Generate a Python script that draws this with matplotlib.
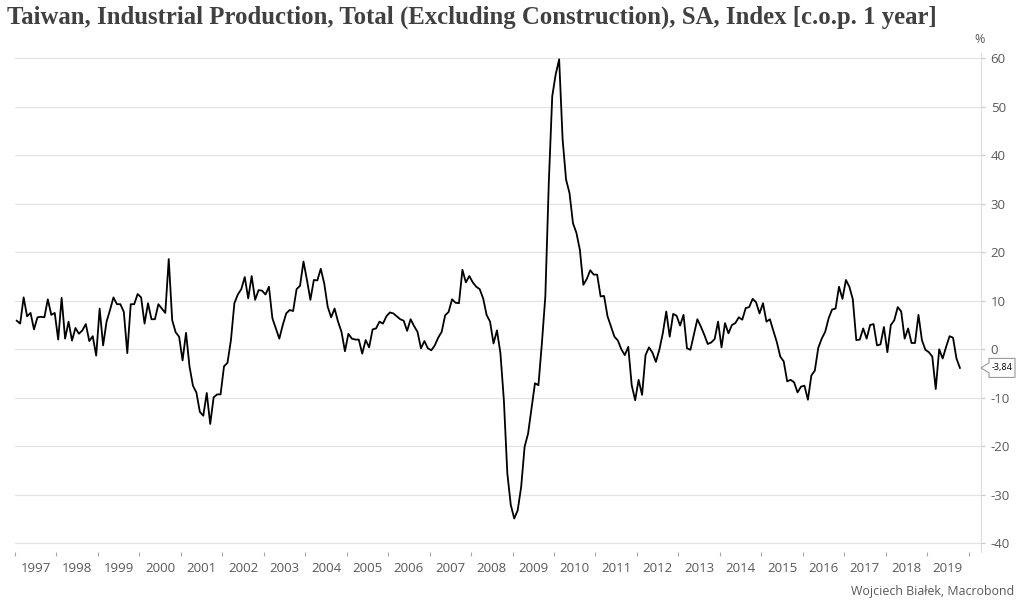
import matplotlib
matplotlib.use("Agg")
import matplotlib.pyplot as plt
import matplotlib.transforms as mtransforms
from matplotlib.patches import Polygon
import numpy as np

title = "Taiwan, Industrial Production, Total (Excluding Construction), SA, Index [c.o.p. 1 year]"
credit = "Wojciech Białek, Macrobond"
unit_label = "%"
start_year = 1997
year_labels = list(range(1997, 2020))
y_ticks = [-40, -30, -20, -10, 0, 10, 20, 30, 40, 50, 60]
last_label = "-3,84"

# monthly y/y change, Jan 1997 .. Oct 2019
ip_yoy = [
    5.9, 5.3, 10.7, 6.8, 7.5, 4.1, 6.6, 6.7, 6.6, 10.3, 7.1, 7.5,        # 1997
    2.0, 10.6, 2.2, 5.7, 1.8, 4.4, 3.2, 3.9, 5.2, 1.7, 2.7, -1.3,       # 1998
    8.4, 0.8, 5.7, 8.1, 10.7, 9.3, 9.3, 7.7, -0.8, 9.3, 9.3, 11.4,      # 1999
    10.7, 5.3, 9.5, 6.2, 6.2, 9.3, 8.4, 7.5, 18.6, 6.0, 3.5, 2.6,       # 2000
    -2.3, 3.4, -3.5, -7.5, -8.9, -12.9, -13.7, -9.0, -15.4, -9.9, -9.3, -9.3,  # 2001
    -3.5, -2.8, 1.9, 9.5, 11.3, 12.4, 14.9, 10.5, 15.1, 10.2, 12.2, 12.1,      # 2002
    11.3, 12.9, 6.4, 4.3, 2.2, 5.0, 7.4, 8.1, 7.9, 12.4, 13.1, 18.1,    # 2003
    14.3, 10.2, 14.3, 14.2, 16.6, 13.6, 8.8, 6.6, 8.4, 5.7, 3.6, -0.4,  # 2004
    3.2, 2.2, 2.0, 2.0, -0.9, 1.9, 0.4, 4.1, 4.3, 5.7, 5.3, 6.8,        # 2005
    7.6, 7.4, 6.8, 6.2, 5.9, 3.8, 6.2, 4.8, 3.6, 0.2, 1.7, 0.2,         # 2006
    -0.2, 0.8, 2.4, 3.6, 7.0, 7.7, 10.3, 9.6, 9.5, 16.4, 13.8, 15.1,    # 2007
    13.8, 12.9, 12.4, 10.5, 7.1, 5.7, 1.2, 3.9, -0.8, -10.5, -25.6, -32.1,     # 2008
    -34.9, -33.2, -28.4, -20.1, -17.4, -12.2, -7.0, -7.4, 1.2, 10.9, 34.3, 52.2,  # 2009
    56.7, 59.8, 43.3, 35.0, 32.2, 26.0, 24.0, 20.5, 13.3, 14.5, 16.3, 15.4,   # 2010
    15.4, 10.9, 11.0, 6.8, 4.7, 2.6, 1.8, 0.0, -1.2, 0.5, -7.4, -10.5,  # 2011
    -6.3, -9.4, -1.2, 0.4, -0.7, -2.6, -0.1, 3.3, 7.8, 2.6, 7.3, 6.9,   # 2012
    4.9, 7.1, 0.2, -0.1, 3.0, 6.2, 4.7, 3.0, 1.1, 1.4, 2.1, 5.7,        # 2013
    0.4, 5.4, 3.3, 5.0, 5.4, 6.6, 6.1, 8.5, 8.7, 10.4, 9.7, 7.4,        # 2014
    9.5, 5.7, 6.2, 3.8, 1.5, -1.5, -2.5, -6.6, -6.3, -6.8, -8.9, -7.7,  # 2015
    -7.5, -10.4, -5.4, -4.4, 0.3, 2.2, 3.6, 6.4, 8.2, 8.4, 12.9, 10.4,  # 2016
    14.3, 12.9, 10.3, 1.9, 2.0, 4.3, 2.2, 5.0, 5.2, 0.8, 1.0, 4.6,      # 2017
    -0.6, 5.0, 6.0, 8.7, 7.8, 2.2, 4.3, 1.3, 1.3, 7.1, 1.9, -0.1,       # 2018
    -0.6, -1.5, -8.2, 0.0, -1.9, 0.5, 2.7, 2.4, -1.9, -3.84,            # 2019
]

months = np.arange(len(ip_yoy))
x = start_year + (months + 0.5) / 12.0
last_value = ip_yoy[-1]

text_gray = "#595959"
grid_gray = "#e3e3e3"
axis_gray = "#c8c8c8"

fig = plt.figure(figsize=(10.24, 6.08), dpi=100)
W, H = 1024, 608
ax = fig.add_axes([15 / W, (H - 552) / H, (981 - 15) / W, (552 - 53) / H])

ax.plot(x, ip_yoy, color="black", lw=1.3, solid_joinstyle="round", zorder=3)

ax.set_xlim(start_year, start_year + 23.3)
ax.set_ylim(-41.8, 61.1)
ax.set_autoscale_on(False)

# y axis on the right
ax.yaxis.tick_right()
ax.set_yticks(y_ticks)
ax.set_yticklabels([str(v) for v in y_ticks])
ax.tick_params(axis="y", which="major", length=3, width=0.8, color=axis_gray,
               labelcolor=text_gray, labelsize=9.5, pad=4)
ax.yaxis.grid(True, color=grid_gray, lw=0.9)
ax.set_axisbelow(True)

# x axis: ticks at year boundaries, labels centred in the year
ax.set_xticks(list(range(start_year, start_year + len(year_labels) + 1)))
ax.set_xticklabels([])
ax.set_xticks([y + 0.5 for y in year_labels], minor=True)
ax.set_xticklabels([str(y) for y in year_labels], minor=True)
ax.tick_params(axis="x", which="major", length=3, width=0.8, color="#a6a6a6", direction="out")
ax.tick_params(axis="x", which="minor", length=0, labelcolor=text_gray, labelsize=9.5, pad=7)

for s in ["left", "top", "bottom"]:
    ax.spines[s].set_visible(False)
ax.spines["right"].set_color("#dcdcdc")
ax.spines["right"].set_linewidth(0.8)

for lab in ax.get_xticklabels(minor=True) + ax.get_yticklabels():
    lab.set_fontfamily("Open Sans")

# unit label above the axis
ax.annotate(unit_label, xy=(1, 1), xycoords="axes fraction", xytext=(-1, 9.5),
            textcoords="offset points", ha="center", va="center",
            fontsize=9, color=text_gray, family="Open Sans")

# last value callout
anchor = mtransforms.ScaledTranslation(1, last_value, ax.get_yaxis_transform())
pt_trans = mtransforms.Affine2D().scale(1 / 72.0) + fig.dpi_scale_trans + anchor
s = 0.72
verts = [(0, 0), (8 * s, 5 * s), (8 * s, 9.5 * s), (34 * s, 9.5 * s),
         (34 * s, -9.5 * s), (8 * s, -9.5 * s), (8 * s, -5 * s)]
callout = Polygon(verts, closed=True, facecolor="white", edgecolor="#9a9a9a",
                  lw=0.8, transform=pt_trans, clip_on=False, zorder=6)
ax.add_artist(callout)
ax.annotate(last_label, xy=(1, last_value), xycoords=ax.get_yaxis_transform(),
            xytext=(21.5 * s, 0), textcoords="offset points", ha="center", va="center",
            fontsize=6.5, color="black", family="Open Sans", annotation_clip=False,
            zorder=7)

# title and credit
fig.text(7 / W, 1 - 17 / H, title, ha="left", va="center", fontsize=17.8,
         fontweight="bold", family="Liberation Serif", color="#404040")
fig.text(1014 / W, 1 - 591 / H, credit, ha="right", va="center", fontsize=8.9,
         color=text_gray, family="Open Sans")

fig.savefig("out.png", dpi=100)
